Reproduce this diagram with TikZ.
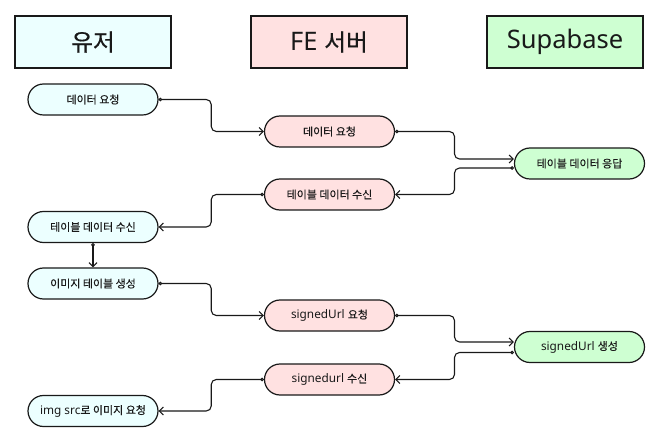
\documentclass[tikz,border=0pt]{standalone}
\usepackage{fontspec}
\setmainfont{Noto Sans}
\newfontfamily\kr{Noto Sans CJK KR}[Scale=0.93,FakeBold=0.3]
\newcommand{\K}[1]{{\kr #1}}
\usetikzlibrary{arrows.meta,calc}
\definecolor{ufill}{RGB}{236,255,255}
\definecolor{ffill}{RGB}{255,225,225}
\definecolor{sfill}{RGB}{206,255,210}
\definecolor{ink}{RGB}{25,25,25}
\tikzset{
  hdr/.style={draw=ink, line width=1.4bp, minimum width=156bp, minimum height=52bp, inner sep=0pt, font=\fontsize{25.5bp}{28bp}\selectfont, text=ink},
  stepnode/.style={draw=ink, line width=1.2bp, rounded corners=15.5bp, minimum width=130bp, minimum height=31bp, inner sep=0pt, font=\fontsize{11.8bp}{14bp}\selectfont, text=ink},
  unode/.style={stepnode, fill=ufill},
  fnode/.style={stepnode, fill=ffill},
  snode/.style={stepnode, fill=sfill},
  conn/.style={draw=ink, line width=1.1bp, rounded corners=5bp, {Circle[open,length=3.5bp,width=3.5bp]}-{Straight Barb[length=4bp,width=8bp]}}
}
\begin{document}
\begin{tikzpicture}[x=1bp,y=-1bp]
\useasboundingbox (0,0) rectangle (658,440);
\node[hdr, fill=ufill] (hu) at (93,42) {\K{유저}};
\node[hdr, fill=ffill] (hf) at (329,42) {FE \K{서버}};
\node[hdr, fill=sfill] (hs) at (565,42) {Supabase};

\node[unode] (u1) at (93,99.5) {\K{데이터 요청}};
\node[unode] (u2) at (93,227) {\K{테이블 데이터 수신}};
\node[unode] (u3) at (93,283.5) {\K{이미지 테이블 생성}};
\node[unode] (u4) at (93,411) {img src\K{로 이미지 요청}};

\node[fnode] (f1) at (329.5,131.5) {\K{데이터 요청}};
\node[fnode] (f2) at (329.5,194.5) {\K{테이블 데이터 수신}};
\node[fnode] (f3) at (329.5,315.5) {signedUrl \K{요청}};
\node[fnode] (f4) at (329.5,379.5) {signedurl \K{수신}};

\node[snode] (s1) at (579.5,163.5) {\K{테이블 데이터 응답}};
\node[snode] (s2) at (579.5,347) {signedUrl \K{생성}};

\draw[conn] (u1.east) -| ($(u1.east)!.5!(f1.west)$) |- (f1.west);
\draw[conn] (f1.east) -| ($(f1.east)!.5!([yshift=4.5bp]s1.west)$) |- ([yshift=4.5bp]s1.west);
\draw[conn] ([yshift=-4.5bp]s1.west) -| ($([yshift=-4.5bp]s1.west)!.5!(f2.east)$) |- (f2.east);
\draw[conn] (f2.west) -| ($(f2.west)!.5!(u2.east)$) |- (u2.east);
\draw[conn] (u2.south) -- (u3.north);
\draw[conn] (u3.east) -| ($(u3.east)!.5!(f3.west)$) |- (f3.west);
\draw[conn] (f3.east) -| ($(f3.east)!.5!([yshift=5bp]s2.west)$) |- ([yshift=5bp]s2.west);
\draw[conn] ([yshift=-5.5bp]s2.west) -| ($([yshift=-5.5bp]s2.west)!.5!(f4.east)$) |- (f4.east);
\draw[conn] (f4.west) -| ($(f4.west)!.5!(u4.east)$) |- (u4.east);
\end{tikzpicture}
\end{document}
